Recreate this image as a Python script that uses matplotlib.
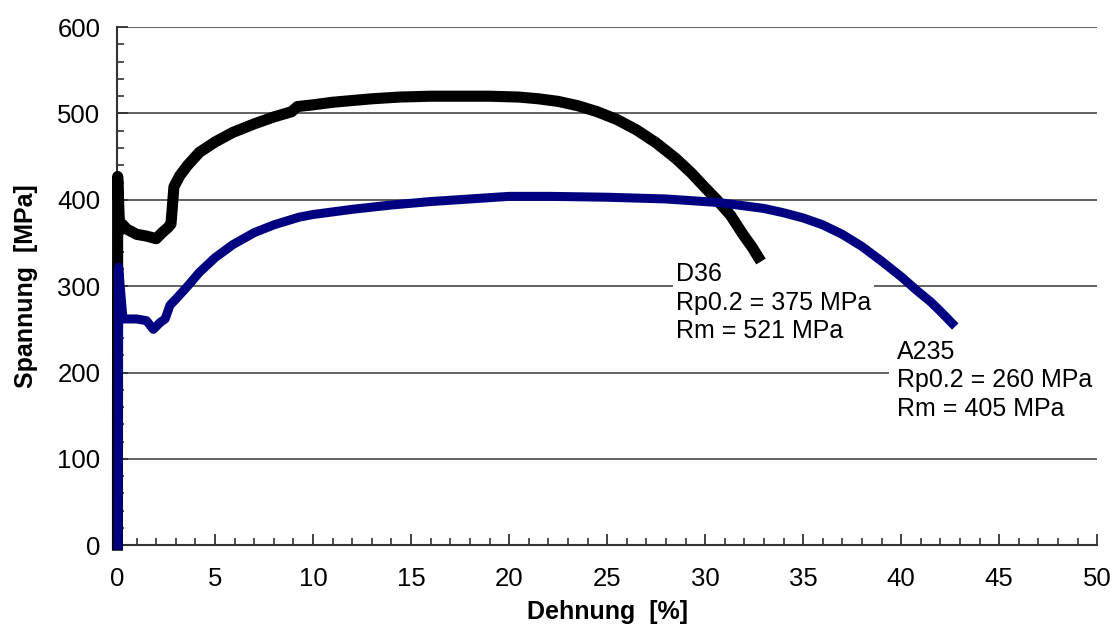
import numpy as np
import matplotlib.pyplot as plt
from matplotlib.ticker import MultipleLocator

#stress-strain data
d36_strain = [0.02, 0.02, 0.03, 0.12, 0.25, 0.5, 1.0, 1.5, 2.0, 2.3, 2.6, 2.75, 2.9, 3.2, 3.6,
              4.2, 5, 5.9, 7, 8, 8.9, 9.2, 10, 11, 12, 13, 14.4, 16, 17.5, 19, 20.5,
              21.5, 22.5, 23.5, 24.5, 25.5, 26.5, 27.5, 28.5, 29.3, 30, 30.6, 31.3, 31.9, 32.4, 32.7]
d36_stress = [0, 80, 427, 372, 372, 366, 360, 358, 355, 362, 368, 372, 415, 428, 440,
              455, 467, 478, 488, 496, 502, 508, 510, 513, 515, 517, 519, 520, 520, 520, 519,
              517, 514, 509, 502, 493, 481, 466, 448, 431, 414, 400, 382, 361, 345, 334]

a235_strain = [0.05, 0.06, 0.07, 0.08, 0.3, 1.0, 1.5, 1.85, 2.2, 2.45, 2.7, 3.0, 3.6, 4.2,
               5, 5.9, 7, 8, 9.3, 10, 12, 14, 16, 18, 20, 22.1, 25, 28, 30.6, 32, 33, 34,
               35, 36, 37, 38, 39, 40, 40.8, 41.5, 42, 42.6]
a235_stress = [0, 100, 220, 322, 262, 262, 260, 250, 258, 262, 278, 285, 300, 316,
               333, 348, 362, 371, 380, 383, 389, 394, 398, 401, 404, 404, 403, 401, 397, 393, 390, 385,
               379, 371, 360, 346, 329, 311, 295, 282, 271, 257]

d36_label = 'D36\nRp0.2 = 375 MPa\nRm = 521 MPa'
a235_label = 'A235\nRp0.2 = 260 MPa\nRm = 405 MPa'

plt.rcParams['font.family'] = ['Liberation Sans', 'DejaVu Sans']

fig = plt.figure(figsize=(11.15, 6.31), dpi=100)
ax = fig.add_axes([0.105, 0.136, 0.879, 0.821])

ax.plot(d36_strain, d36_stress, color='black', lw=8, zorder=3, clip_on=False)
ax.plot(a235_strain, a235_stress, color='#000080', lw=6.5, zorder=4, clip_on=False)

#labels with white boxes hiding the grid (kept under the curves)
ax.text(28.5, 328, d36_label, fontsize=18, va='top', ha='left', linespacing=1.25,
        bbox=dict(facecolor='white', edgecolor='none', pad=2), zorder=2)
ax.text(39.8, 238, a235_label, fontsize=18, va='top', ha='left', linespacing=1.25,
        bbox=dict(facecolor='white', edgecolor='none', pad=6), zorder=2)

ax.set_xlim(0, 50)
ax.set_ylim(0, 600)
ax.xaxis.set_major_locator(MultipleLocator(5))
ax.xaxis.set_minor_locator(MultipleLocator(1))
ax.yaxis.set_major_locator(MultipleLocator(100))
ax.yaxis.set_minor_locator(MultipleLocator(20))
ax.tick_params(which='both', direction='in', labelsize=18.5, color='#333333')
ax.tick_params(which='major', length=8, width=1.3)
ax.tick_params(which='minor', length=5, width=1.2)
ax.tick_params(axis='x', pad=16)
ax.tick_params(axis='y', pad=12)

ax.grid(axis='y', color='#555555', lw=1.3, zorder=1)
ax.set_axisbelow(True)
for s in ['top', 'right']:
    ax.spines[s].set_visible(False)
for s in ['left', 'bottom']:
    ax.spines[s].set_color('#333333')
    ax.spines[s].set_linewidth(1.5)

ax.set_xlabel('Dehnung  [%]', fontsize=18, fontweight='bold', labelpad=6)
ax.set_ylabel('Spannung  [MPa]', fontsize=18, fontweight='bold', labelpad=14)

plt.savefig('out.png', dpi=100)
